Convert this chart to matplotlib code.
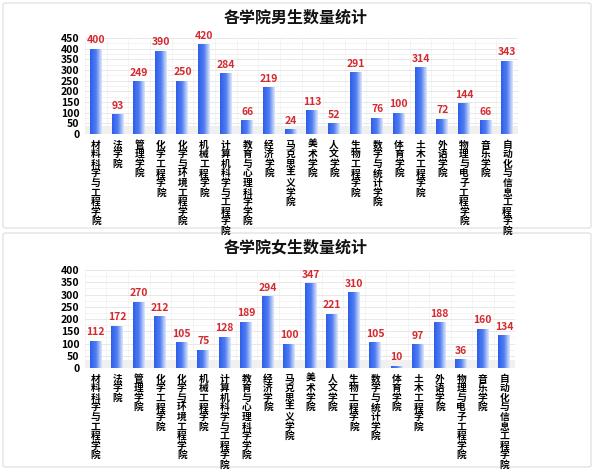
import numpy as np
import matplotlib.pyplot as plt
from matplotlib.patches import FancyBboxPatch
from matplotlib.colors import LinearSegmentedColormap
from matplotlib.ticker import MultipleLocator

plt.rcParams['font.family'] = ['Noto Sans CJK SC', 'DejaVu Sans']

colleges = ['材料科学与工程学院', '法学院', '管理学院', '化学工程学院', '化学与环境工程学院',
            '机械工程学院', '计算机科学与工程学院', '教育与心理科学学院', '经济学院', '马克思主义学院',
            '美术学院', '人文学院', '生物工程学院', '数学与统计学院', '体育学院',
            '土木工程学院', '外语学院', '物理与电子工程学院', '音乐学院', '自动化与信息工程学院']
male = [400, 93, 249, 390, 250, 420, 284, 66, 219, 24,
        113, 52, 291, 76, 100, 314, 72, 144, 66, 343]
female = [112, 172, 270, 212, 105, 75, 128, 189, 294, 100,
          347, 221, 310, 105, 10, 97, 188, 36, 160, 134]

W, H = 594, 473
cmap = LinearSegmentedColormap.from_list('bar', ['#2e5ee9', '#4f7df2', '#dfe7fb'])


def draw_panel(fig, rect_px, panel_px, title, title_y, values, ymax):
    # marco del panel
    px0, py0, px1, py1 = panel_px
    box = FancyBboxPatch((px0 / W, 1 - py1 / H), (px1 - px0) / W, (py1 - py0) / H,
                         boxstyle='round,pad=0,rounding_size=0.004',
                         transform=fig.transFigure, fc='white', ec='#dcdcdc', lw=0.8, zorder=-5)
    fig.patches.append(box)
    fig.text(0.497, 1 - title_y / H, title, ha='center', va='center',
             fontsize=11.5, fontweight='bold', color='#111111')

    x0, y0, x1, y1 = rect_px
    ax = fig.add_axes([x0 / W, 1 - y1 / H, (x1 - x0) / W, (y1 - y0) / H])
    ax.set_facecolor('none')
    x = np.arange(len(values))
    bars = ax.bar(x, values, width=0.55, color='none', zorder=3)
    grad = np.linspace(0, 1, 64).reshape(1, -1)
    for b in bars:
        im = ax.imshow(grad, cmap=cmap, aspect='auto', zorder=3,
                       extent=[b.get_x(), b.get_x() + b.get_width(), 0, b.get_height()])
        im.set_clip_path(b)
    for xi, v in zip(x, values):
        ax.text(xi, v + ymax * 0.035, str(v), ha='center', va='bottom',
                fontsize=7.5, fontweight='bold', color='#d42a2f', zorder=4)

    ax.axhspan(0, ymax * 0.08, color='#e6e6e6', alpha=0.6, zorder=1, lw=0)
    ax.set_xlim(-0.5, len(values) - 0.5)
    ax.set_ylim(0, ymax)
    ax.yaxis.set_major_locator(MultipleLocator(50))
    ax.yaxis.set_minor_locator(MultipleLocator(25))
    ax.xaxis.set_minor_locator(MultipleLocator(0.5))
    ax.grid(which='major', axis='y', color='#e4e4e4', lw=0.6, zorder=0)
    ax.grid(which='minor', color='#f0f0f0', lw=0.5, zorder=0)
    ax.set_xticks(x)
    ax.set_xticklabels(['\n'.join(c) for c in colleges], fontsize=7, fontweight='bold',
                       linespacing=0.95, va='top')
    for lbl in ax.get_yticklabels():
        lbl.set_fontweight('bold')
    ax.tick_params(axis='y', labelsize=7.5, length=0, pad=4)
    ax.tick_params(axis='x', length=0, pad=4)
    ax.tick_params(which='minor', length=0)
    for s in ax.spines.values():
        s.set_visible(False)
    return ax


fig = plt.figure(figsize=(W / 100, H / 100), dpi=100)
draw_panel(fig, (85, 38, 518, 134), (3, 3, 591, 228), '各学院男生数量统计', 18, male, 450)
draw_panel(fig, (85, 270, 515, 368), (3, 233, 591, 467), '各学院女生数量统计', 248, female, 400)
fig.savefig('out.png', dpi=100)
